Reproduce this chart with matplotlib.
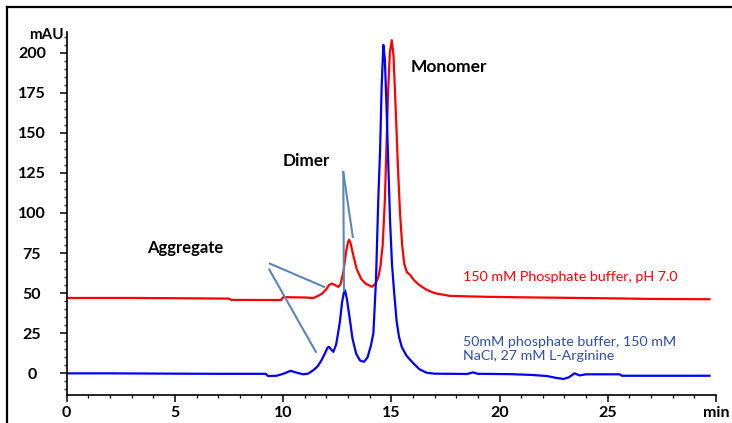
import matplotlib
matplotlib.use("Agg")
import matplotlib.pyplot as plt
from matplotlib.lines import Line2D

plt.rcParams['font.family'] = ['Lato', 'DejaVu Sans']

# ---- data ----
red_t = [0, 3, 5.5, 7.5, 7.6, 9.9, 10.0, 11.0, 11.4, 11.6, 11.8, 12.0, 12.12, 12.24,
         12.4, 12.55, 12.65, 12.78, 12.9, 13.0, 13.05, 13.12, 13.25, 13.4, 13.6, 13.8,
         14.1, 14.25, 14.4, 14.5, 14.6, 14.7, 14.77, 14.85, 14.93, 15.02, 15.1, 15.2,
         15.3, 15.4, 15.5, 15.6, 15.72, 15.86, 16.05, 16.3, 16.64, 17.0, 17.7, 18.5,
         19.5, 21, 23, 25, 27, 29.7]
red_v = [47, 47, 46.8, 46.6, 45.8, 45.7, 47.5, 47.3, 47.0, 48.2, 49.7, 52.5, 55, 56,
         55, 53.9, 55.5, 63, 75, 82, 83.3, 81, 73, 65, 59, 56,
         54, 55.5, 60, 67, 80, 108, 139, 175, 200, 207.7, 198, 165,
         130, 100, 80, 68, 63, 61.5, 58, 55, 52, 50, 48.3, 48,
         47.7, 47.4, 47.1, 46.8, 46.4, 46.2]

blue_t = [0, 2, 5, 7, 9.2, 9.3, 9.7, 10.0, 10.35, 10.6, 10.93, 11.15, 11.4, 11.6,
          11.78, 11.95, 12.05, 12.12, 12.22, 12.32, 12.45, 12.55, 12.63, 12.72, 12.8,
          12.86, 12.95, 13.09, 13.2, 13.37, 13.55, 13.74, 13.9, 14.05, 14.17, 14.29,
          14.4, 14.48, 14.55, 14.63, 14.7, 14.78, 14.86, 14.94, 15.03, 15.12, 15.24,
          15.35, 15.48, 15.7, 16.02, 16.3, 16.63, 17.0, 18.5, 18.77, 19.0, 20.5, 21.5,
          22.2, 22.6, 22.95, 23.2, 23.46, 23.7, 24.0, 25.55, 25.65, 29.7]
blue_v = [0, 0, -0.2, -0.3, -0.3, -1.7, -1.5, -0.3, 1.6, 0.5, -0.6, -0.2, 2, 4.5,
          8.3, 13, 16, 16.5, 14.8, 13.4, 18, 26, 33, 44, 50,
          51.8, 46, 33, 22, 12.4, 8, 7.2, 10, 17, 25, 58,
          110, 139, 178, 204.8, 196, 165, 130, 95, 68, 52, 33,
          23, 16.5, 11, 6.2, 2.5, 0.4, -0.2, -0.4, 0.6, -0.3, -0.5, -1.0,
          -1.7, -2.8, -3.5, -2.5, 0, -1.3, -0.6, -0.6, -1.5, -1.5]

x_major = [0, 5, 10, 15, 20, 25, 30]
x_labels = ['0', '5', '10', '15', '20', '25', 'min']
y_major = [0, 25, 50, 75, 100, 125, 150, 175, 200]

red_label = '150 mM Phosphate buffer, pH 7.0'
blue_label = '50mM phosphate buffer, 150 mM\nNaCl, 27 mM L-Arginine'

# ---- figure ----
fig = plt.figure(figsize=(7.32, 4.23), dpi=100)
ax = fig.add_axes([66.7/732, 1-395/423, (716-66.7)/732, (395-31.7)/423])

ax.plot(red_t, red_v, color='#FF0000', lw=1.6, solid_joinstyle='round')
ax.plot(blue_t, blue_v, color='#0000FF', lw=1.6, solid_joinstyle='round')

ax.set_xlim(0, 30)
ax.set_ylim(-13.5, 213)

for s in ['top', 'right']:
    ax.spines[s].set_visible(False)
for s in ['left', 'bottom']:
    ax.spines[s].set_linewidth(1.2)

ax.set_xticks(x_major)
ax.set_xticklabels(x_labels)
ax.set_xticks(range(0, 31), minor=True)
ax.set_yticks(y_major)
ax.set_yticks(range(-10, 211, 5), minor=True)
ax.tick_params(axis='both', which='major', direction='out', length=5, width=1.1,
               labelsize=11.5)
ax.tick_params(axis='both', which='minor', direction='out', length=2.5, width=0.9)
ax.tick_params(axis='y', which='major', pad=20)
ax.tick_params(axis='x', which='major', pad=3)
for lab in ax.get_yticklabels():
    lab.set_ha('center')
    lab.set_fontweight('bold')
for lab in ax.get_xticklabels():
    lab.set_fontweight('bold')

fig.text(63.3/732, 1-35/423, 'mAU', ha='right', va='center', fontsize=11,
         fontweight='bold')

# annotations
ax.text(15.9, 191, 'Monomer', ha='left', va='center', fontsize=12.5, fontweight='bold')
ax.text(9.98, 132.6, 'Dimer', ha='left', va='center', fontsize=12.3, fontweight='bold')
ax.text(3.70, 78.4, 'Aggregate', ha='left', va='center', fontsize=12, fontweight='bold')
ax.text(18.3, 60, red_label, ha='left', va='center', fontsize=10.3, color='#FF0000')
ax.text(18.3, 15.2, blue_label, ha='left', va='center', fontsize=10.3, color='#2F4FA8',
        linespacing=1.15)

pointer = '#5B87B5'
ax.plot([9.39, 11.89], [68.4, 53.9], color=pointer, lw=1.5)
ax.plot([9.36, 11.51], [64.7, 13.4], color=pointer, lw=1.5)
ax.plot([12.78, 13.22], [125.4, 85], color=pointer, lw=1.5)
ax.plot([12.78, 12.81], [125.4, 51.8], color=pointer, lw=1.5)

# figure frame (left and top)
fig.add_artist(Line2D([7/732, 7/732], [0, 1-7/423], transform=fig.transFigure,
                      color='black', lw=1.6))
fig.add_artist(Line2D([7/732, 1], [1-7/423, 1-7/423], transform=fig.transFigure,
                      color='black', lw=1.6))

fig.savefig('out.png', dpi=100)
